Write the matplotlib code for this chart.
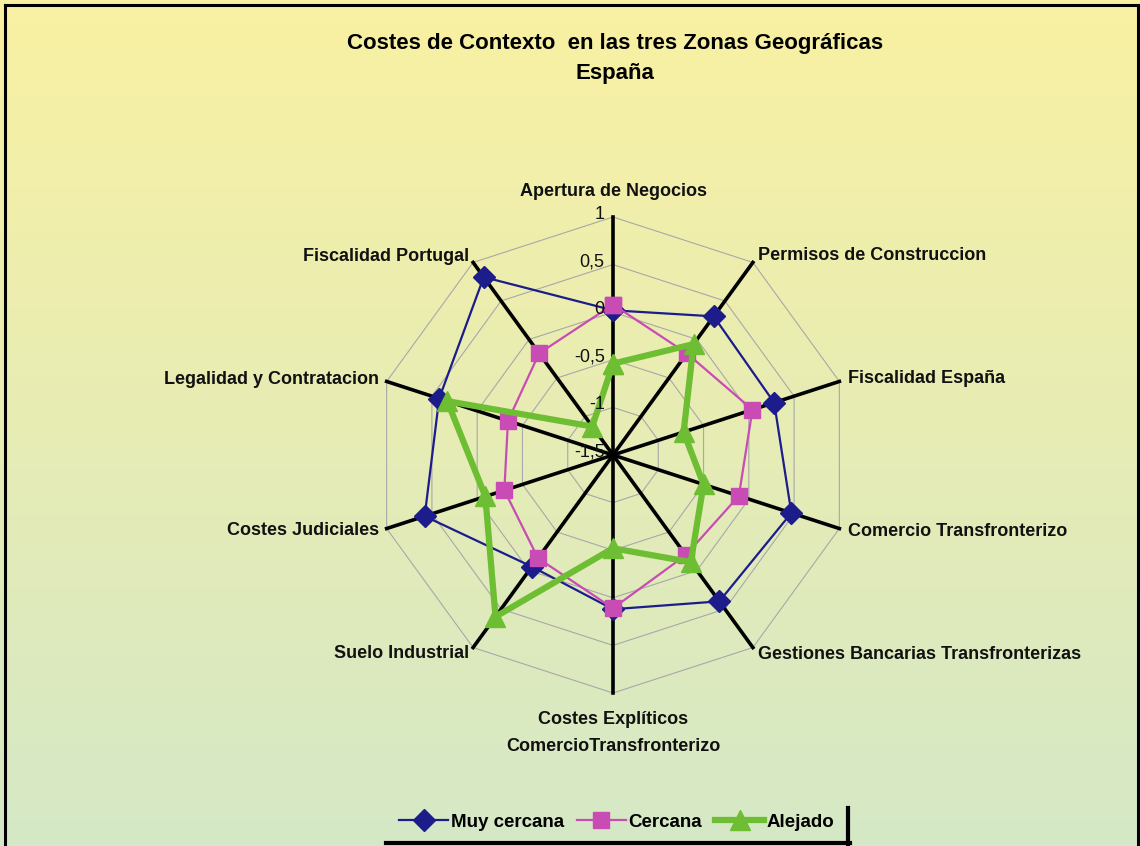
"""Radar chart: Costes de Contexto en las tres Zonas Geograficas - Espana."""

import numpy as np
import matplotlib
matplotlib.use("Agg")
import matplotlib.pyplot as plt
from matplotlib.colors import LinearSegmentedColormap

plt.rcParams["font.family"] = ["Liberation Sans", "DejaVu Sans"]

CATEGORIES = [
    "Apertura de Negocios",
    "Permisos de Construccion",
    "Fiscalidad España",
    "Comercio Transfronterizo",
    "Gestiones Bancarias Transfronterizas",
    "Costes Explíticos\nComercioTransfronterizo",
    "Suelo Industrial",
    "Costes Judiciales",
    "Legalidad y Contratacion",
    "Fiscalidad Portugal",
]

MUY_CERCANA = [0.02, 0.30, 0.28, 0.47, 0.40, 0.12, -0.05, 0.58, 0.42, 0.81]
CERCANA = [0.08, -0.18, 0.04, -0.11, -0.20, 0.11, -0.16, -0.30, -0.34, -0.18]
ALEJADO = [-0.54, -0.06, -0.72, -0.50, -0.11, -0.52, 0.60, -0.09, 0.33, -1.13]

SERIES_NAMES = ["Muy cercana", "Cercana", "Alejado"]
RINGS = [-1.5, -1.0, -0.5, 0.0, 0.5, 1.0]
RING_LABELS = ["-1,5", "-1", "-0,5", "0", "0,5", "1"]

W, H = 1140, 846


def main():
    fig = plt.figure(figsize=(W / 100, H / 100), dpi=100)

    # gradient background
    bg = fig.add_axes([0, 0, 1, 1], zorder=-10)
    cmap = LinearSegmentedColormap.from_list("bg", ["#D5E8C6", "#F9F1A2"])
    grad = np.linspace(0, 1, 256).reshape(-1, 1)
    bg.imshow(grad, aspect="auto", cmap=cmap, origin="lower",
              extent=[0, 1, 0, 1])
    bg.set_xlim(0, 1)
    bg.set_ylim(0, 1)
    bg.axis("off")
    # outer frame
    for xs, ys in [([0.004, 0.004], [0, 0.994]), ([0.004, 0.998], [0.994, 0.994]),
                   ([0.998, 0.998], [0, 0.994])]:
        bg.plot(xs, ys, color="black", lw=2.2)

    cx, cy, rad = 613, 455, 238
    ax = fig.add_axes([(cx - rad) / W, (H - cy - rad) / H, 2 * rad / W, 2 * rad / H],
                      projection="polar")
    ax.patch.set_alpha(0)
    ax.set_theta_zero_location("N")
    ax.set_theta_direction(-1)
    ax.set_ylim(-1.5, 1.0)
    ax.grid(False)
    ax.spines["polar"].set_visible(False)
    ax.set_xticks([])
    ax.set_yticks([])

    n = len(CATEGORIES)
    theta = np.arange(n) * 2 * np.pi / n
    closed = np.append(theta, theta[0])

    for r in RINGS[1:]:
        ax.plot(closed, [r] * (n + 1), color="#A8A8A8", lw=0.8,
                clip_on=False, zorder=1)
    for t in theta:
        ax.plot([t, t], [-1.5, 1.0], color="black", lw=2.6,
                clip_on=False, zorder=2)

    styles = [
        dict(color="#1C1C8A", lw=1.6, marker="D", ms=11),
        dict(color="#C84CB4", lw=1.6, marker="s", ms=12),
        dict(color="#6DBE32", lw=4.5, marker="^", ms=14),
    ]
    handles = []
    for name, vals, st in zip(SERIES_NAMES, [MUY_CERCANA, CERCANA, ALEJADO], styles):
        v = np.append(vals, vals[0])
        line, = ax.plot(closed, v, color=st["color"], lw=st["lw"],
                        marker=st["marker"], markersize=st["ms"],
                        markerfacecolor=st["color"], markeredgecolor=st["color"],
                        clip_on=False, zorder=3, label=name)
        handles.append(line)

    for r, lab in zip(RINGS, RING_LABELS):
        ax.annotate(lab, (0, r), xytext=(-6, 2), textcoords="offset points",
                    ha="right", va="center", fontsize=13, color="#111111",
                    zorder=4)

    for t, lab in zip(theta, CATEGORIES):
        deg = np.degrees(t)
        kw = dict(fontsize=13, fontweight="bold", color="#111111",
                  linespacing=1.75)
        if deg == 0:
            ax.text(t, 1.18, lab, ha="center", va="bottom", **kw)
        elif deg == 180:
            ax.text(t, 1.19, lab, ha="center", va="top", **kw)
        elif deg < 180:
            ax.text(t, 1.09, lab, ha="left", va="center", **kw)
        else:
            ax.text(t, 1.08, lab, ha="right", va="center", **kw)

    fig.text(615 / W, 1 - 43 / H, "Costes de Contexto  en las tres Zonas Geográficas",
             ha="center", va="center", fontsize=16, fontweight="bold")
    fig.text(615 / W, 1 - 73 / H, "España", ha="center", va="center",
             fontsize=16, fontweight="bold")

    fig.legend(handles=handles, labels=SERIES_NAMES, loc="center",
               bbox_to_anchor=(617 / W, 1 - 822 / H), ncol=3, frameon=False,
               handlelength=2.6, handletextpad=0.15, columnspacing=0.7,
               prop=dict(weight="bold", size=13.5))
    # legend box shadow (right and bottom edges)
    bg.plot([848 / W, 848 / W], [0.0, 1 - 808 / H], color="black", lw=3)
    bg.plot([386 / W, 850 / W], [1 - 843 / H, 1 - 843 / H], color="black", lw=3)

    fig.savefig("out.png", dpi=100)


if __name__ == "__main__":
    main()
